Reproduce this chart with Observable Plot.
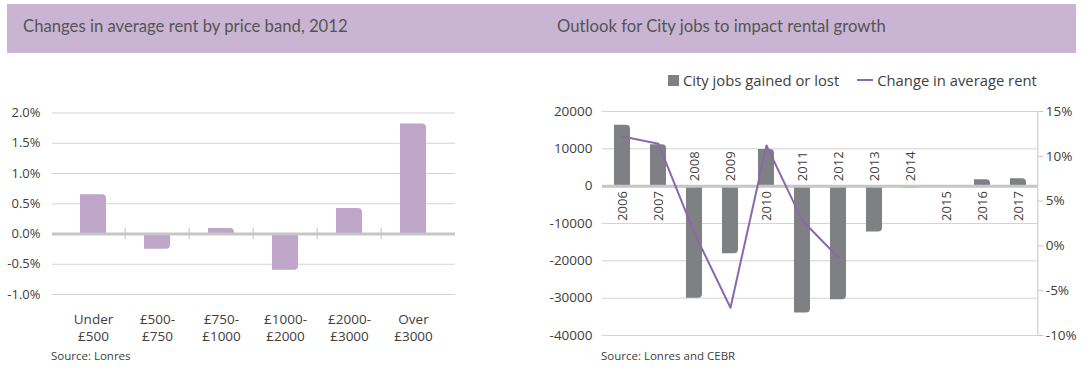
<!DOCTYPE html>
<html>
<head>
<meta charset="utf-8">
<script src="https://cdn.jsdelivr.net/npm/d3@7"></script>
<script src="https://cdn.jsdelivr.net/npm/@observablehq/plot@0.6"></script>
<style>
  html, body { margin: 0; padding: 0; background: #fff; }
  body { width: 1083px; height: 370px; position: relative; overflow: hidden; font-family: "Open Sans", sans-serif; color: #404040; }
  .band { position: absolute; left: 7px; top: 4px; width: 1069px; height: 49px; background: #c9b4d3; }
  .title { position: absolute; top: 16px; font-family: Lato, sans-serif; font-size: 16.7px; color: #555; white-space: nowrap; }
  .chart { position: absolute; }
  .source { position: absolute; top: 348px; font-size: 11.5px; color: #404040; white-space: nowrap; }
  .legend { position: absolute; top: 70px; left: 668px; font-size: 14.8px; color: #404040; white-space: nowrap; display: flex; align-items: center; }
  .sw-sq { display: inline-block; width: 11px; height: 11px; background: #7f8084; margin-right: 4px; }
  .sw-ln { display: inline-block; width: 16px; height: 2px; background: #8a68ac; margin-left: 18px; margin-right: 4px; }
</style>
</head>
<body>
<div class="band"></div>
<div class="title" style="left:23px">Changes in average rent by price band, 2012</div>
<div class="title" style="left:557px">Outlook for City jobs to impact rental growth</div>
<div id="left" class="chart" style="left:0px; top:90px"></div>
<div id="right" class="chart" style="left:540px; top:60px"></div>
<div class="legend"><span class="sw-sq"></span>City jobs gained or lost<span class="sw-ln"></span>Change in average rent</div>
<div class="source" style="left:51px">Source: Lonres</div>
<div class="source" style="left:601px">Source: Lonres and CEBR</div>
<script>
// ---- Left chart data ----
const priceBands = ["Under\n£500", "£500-\n£750", "£750-\n£1000", "£1000-\n£2000", "£2000-\n£3000", "Over\n£3000"];
const rentChange2012 = [0.65, -0.25, 0.09, -0.6, 0.42, 1.82];
const leftTicks = [-1, -0.5, 0, 0.5, 1, 1.5, 2];

// ---- Right chart data ----
const years = ["2006", "2007", "2008", "2009", "2010", "2011", "2012", "2013", "2014", "2015", "2016", "2017"];
const cityJobs = [16300, 11100, -30000, -18100, 9800, -34000, -30400, -12300, -500, 200, 1700, 2000];
const rentYears = ["2006", "2007", "2008", "2009", "2010", "2011", "2012"];
const avgRentChange = [12.2, 11.4, 1.4, -6.9, 11.2, 2.8, -1.3];
const jobTicks = [-40000, -30000, -20000, -10000, 0, 10000, 20000];
const pctTicks = [-10, -5, 0, 5, 10, 15];

// ---- Left chart ----
const leftData = priceBands.map((b, i) => ({band: b, value: rentChange2012[i]}));
const LW = 470, LH = 260, LML = 52, LMR = 15;
const lPadIn = 0.587, lPadOut = 0.408;
const lStep = d3.scaleBand().domain(priceBands).range([LML, LW - LMR]).paddingInner(lPadIn).paddingOuter(lPadOut).step();
const purple = "#bfa5c9";
const grid = "#d3d3d3";

const left = Plot.plot({
  width: LW, height: LH,
  marginLeft: LML, marginRight: LMR, marginTop: 22.5, marginBottom: 56,
  style: {fontFamily: "Open Sans, sans-serif", fontSize: "13px", color: "#404040", background: "transparent"},
  x: {domain: priceBands, paddingInner: lPadIn, paddingOuter: lPadOut, label: null},
  y: {domain: [-1, 2], nice: false, label: null},
  marks: [
    Plot.ruleY(leftTicks.filter(d => d !== 0), {stroke: grid, strokeWidth: 1}),
    Plot.barY(leftData.filter(d => d.value >= 0), {x: "band", y: "value", fill: purple, rx2y1: 4}),
    Plot.barY(leftData.filter(d => d.value < 0), {x: "band", y: "value", fill: purple, rx2y2: 4}),
    Plot.ruleY([0], {stroke: "#c6c6c6", strokeWidth: 3}),
    Plot.ruleX(priceBands.slice(1), {x: d => d, y1: 0, y2: 0, insetTop: -6, insetBottom: -6, dx: -lStep / 2, stroke: "#c6c6c6", strokeWidth: 1}),
    Plot.axisY({ticks: leftTicks, tickSize: 0, tickPadding: 12, tickFormat: d => d.toFixed(1) + "%", fill: "#404040", label: null}),
    Plot.axisX({tickSize: 0, tickPadding: 18, lineHeight: 1.25, fontSize: 13.5, fill: "#404040", label: null})
  ]
});
document.getElementById("left").appendChild(left);

// ---- Right chart ----
const RW = 543, RH = 290, RML = 62, RMR = 45.7;
const gray = "#7f8084";
const lineColor = "#8a68ac";
// secondary axis mapping: -10% <-> -40000, 15% <-> 20000
const pctToJobs = p => -40000 + (p + 10) * 2400;
const jobData = years.map((y, i) => ({year: y, value: cityJobs[i]}));
const rentData = rentYears.map((y, i) => ({year: y, value: pctToJobs(avgRentChange[i])}));

const right = Plot.plot({
  width: RW, height: RH,
  marginLeft: RML, marginRight: RMR, marginTop: 51, marginBottom: 15,
  style: {fontFamily: "Open Sans, sans-serif", fontSize: "13.5px", color: "#404040", background: "transparent"},
  x: {domain: years, paddingInner: 0.56, paddingOuter: 0.25, axis: null, label: null},
  y: {domain: [-40000, 20000], nice: false, label: null},
  marks: [
    Plot.ruleY(jobTicks.filter(d => d !== 0), {stroke: grid, strokeWidth: 1}),
    // white label backgrounds on the opposite side of each bar
    Plot.barY(jobData, {x: "year", y1: 0, y2: d => d.value >= 0 ? -10700 : 10700, fill: "white", insetLeft: 8.2, insetRight: 8.2}),
    Plot.barY(jobData.filter(d => d.value >= 0), {x: "year", y: "value", fill: gray, rx2y1: 4}),
    Plot.barY(jobData.filter(d => d.value < 0), {x: "year", y: "value", fill: gray, rx2y2: 4}),
    Plot.ruleY([0], {stroke: "#c6c6c6", strokeWidth: 3}),
    Plot.text(jobData.filter(d => d.value >= 0), {x: "year", y: 0, text: "year", rotate: -90, textAnchor: "end", dy: 5, fill: "#404040", fontSize: 13}),
    Plot.text(jobData.filter(d => d.value < 0), {x: "year", y: 0, text: "year", rotate: -90, textAnchor: "start", dy: -5, fill: "#404040", fontSize: 13}),
    Plot.line(rentData, {x: "year", y: "value", stroke: lineColor, strokeWidth: 2}),
    Plot.axisY({anchor: "left", ticks: jobTicks, tickSize: 0, tickPadding: 10, tickFormat: d => String(d), fill: "#404040", label: null}),
    Plot.axisY({anchor: "right", ticks: pctTicks.map(pctToJobs), tickSize: 5, tickPadding: 3,
      tickFormat: (d, i) => pctTicks[i] + "%", stroke: "#c6c6c6", fill: "#404040", label: null}),
    Plot.frame({anchor: "right", stroke: "#c6c6c6"})
  ]
});
document.getElementById("right").appendChild(right);
</script>
</body>
</html>
